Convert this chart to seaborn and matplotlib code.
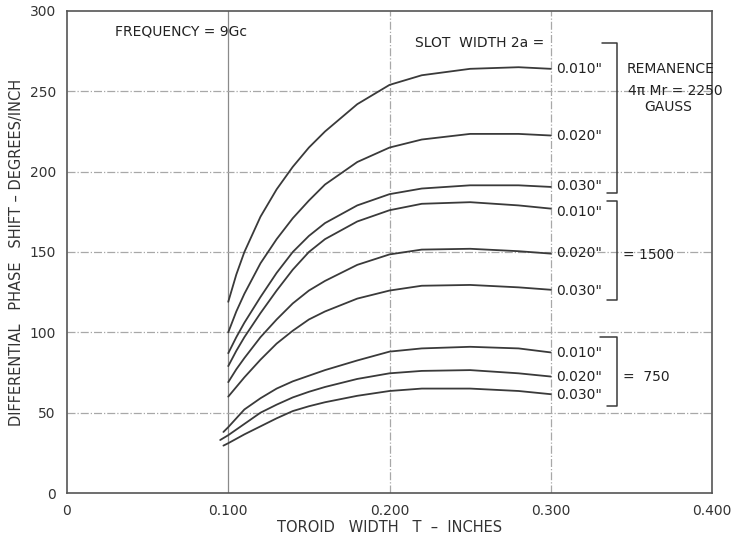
import numpy as np
import pandas as pd
import matplotlib
matplotlib.use("Agg")
import matplotlib.pyplot as plt
import seaborn as sns

# toroid width T (inches) where each curve was read
x_hi = [0.10, 0.105, 0.11, 0.12, 0.13, 0.14, 0.15, 0.16, 0.18, 0.20, 0.22, 0.25, 0.28, 0.30]
x_750_010 = [0.097, 0.10, 0.11, 0.12, 0.13, 0.14, 0.15, 0.16, 0.18, 0.20, 0.22, 0.25, 0.28, 0.30]
x_750_020 = [0.095, 0.10, 0.11, 0.12, 0.13, 0.14, 0.15, 0.16, 0.18, 0.20, 0.22, 0.25, 0.28, 0.30]
x_750_030 = [0.097, 0.10, 0.11, 0.12, 0.13, 0.14, 0.15, 0.16, 0.18, 0.20, 0.22, 0.25, 0.28, 0.30]

# differential phase shift (deg/inch), remanence 2250 gauss
r2250_010 = [119, 136, 150, 172, 189, 203, 215, 225, 242, 254, 260, 264, 265, 264]
r2250_020 = [100, 113, 124, 143, 158, 171, 182, 192, 206, 215, 220, 223.5, 223.5, 222.5]
r2250_030 = [87, 97, 106, 122, 137, 150, 160, 168, 179, 186, 189.5, 191.5, 191.5, 190.5]
# remanence 1500 gauss
r1500_010 = [79, 88.5, 97, 112, 126, 139, 150, 158, 169, 176, 180, 181, 179, 177]
r1500_020 = [69, 77, 84, 97, 108, 118, 126, 132, 142, 148.5, 151.5, 152, 150.5, 149]
r1500_030 = [60, 66, 72, 83, 93, 101, 108, 113, 121, 126, 129, 129.5, 128, 126.5]
# remanence 750 gauss
r750_010 = [38, 41, 52, 59, 65, 69.5, 73, 76.5, 82.5, 88, 90, 91, 90, 87.5]
r750_020 = [33, 36, 43, 50, 55, 59.5, 63, 66, 71, 74.5, 76, 76.5, 74.5, 72.5]
r750_030 = [29.5, 31, 36.5, 41.5, 46.5, 51, 54, 56.5, 60.5, 63.5, 65, 65, 63.5, 61.5]

slot_labels = ['0.010"', '0.020"', '0.030"']
x_ticks = [0, 0.1, 0.2, 0.3, 0.4]
x_ticklabels = ["0", "0.100", "0.200", "0.300", "0.400"]
y_ticks = [0, 50, 100, 150, 200, 250, 300]

series = [
    ("2250 .010", x_hi, r2250_010), ("2250 .020", x_hi, r2250_020), ("2250 .030", x_hi, r2250_030),
    ("1500 .010", x_hi, r1500_010), ("1500 .020", x_hi, r1500_020), ("1500 .030", x_hi, r1500_030),
    ("750 .010", x_750_010, r750_010), ("750 .020", x_750_020, r750_020), ("750 .030", x_750_030, r750_030),
]
df = pd.concat([pd.DataFrame({"T": xs, "shift": ys, "curve": name}) for name, xs, ys in series],
               ignore_index=True)

sns.set_style("white")
plt.rcParams["font.family"] = ["DejaVu Sans"]

fig = plt.figure(figsize=(7.33, 5.38), dpi=100)
ax = fig.add_axes([0.0914, 0.0836, 0.88, 0.896])

ink = "#3a3a3a"
sns.lineplot(data=df, x="T", y="shift", hue="curve", units="curve", estimator=None,
             palette=[ink] * len(series), legend=False, sort=False, lw=1.3, ax=ax)

ax.set_xlim(0, 0.4)
ax.set_ylim(0, 300)
ax.set_xticks(x_ticks)
ax.set_xticklabels(x_ticklabels)
ax.set_yticks(y_ticks)
ax.tick_params(length=0, labelsize=10, colors="#333333", pad=8)
for v in [0.1, 0.2, 0.3]:
    ax.axvline(v, color="#8a8a8a" if v == 0.1 else "#a8a8a8", lw=0.9,
               ls="-." if v != 0.1 else "-", zorder=0)
for v in [50, 100, 150, 200, 250]:
    ax.axhline(v, color="#a8a8a8", lw=0.9, ls="-.", zorder=0)
for s in ax.spines.values():
    s.set_color("#555555")
    s.set_linewidth(1.2)

ax.set_xlabel("TOROID   WIDTH   T  \u2013  INCHES", fontsize=10.5, color="#333333", labelpad=1)
ax.set_ylabel("DIFFERENTIAL   PHASE   SHIFT \u2013 DEGREES/INCH", fontsize=10.5,
              color="#333333", labelpad=4)

txt = dict(fontsize=10, color="#222222", va="center")
ax.text(0.03, 287, "FREQUENCY = 9Gc", ha="left", **txt)
ax.text(0.216, 280, "SLOT  WIDTH 2a =", ha="left", **txt)

# end labels for each group
label_y = [[264, 222.5, 191], [175, 149.5, 126], [87, 72.5, 61]]
for group in label_y:
    for lab, yv in zip(slot_labels, group):
        ax.text(0.3035, yv, lab, ha="left", **txt)

# brackets
bx = 0.341
for top, bot, xt in [(280, 187, 0.3315), (181.5, 120, 0.335), (97, 54, 0.3305)]:
    ax.plot([xt, bx, bx, 0.335], [top, top, bot, bot], color=ink, lw=1.1, clip_on=False)

ax.text(0.347, 264, "REMANENCE", ha="left", **txt)
ax.text(0.348, 250, "4\u03c0 Mr = 2250", ha="left", **txt)
ax.text(0.373, 240.5, "GAUSS", ha="center", **txt)
ax.text(0.345, 148, "= 1500", ha="left", **txt)
ax.text(0.345, 72.5, "=  750", ha="left", **txt)

fig.savefig("out.png", dpi=100)
